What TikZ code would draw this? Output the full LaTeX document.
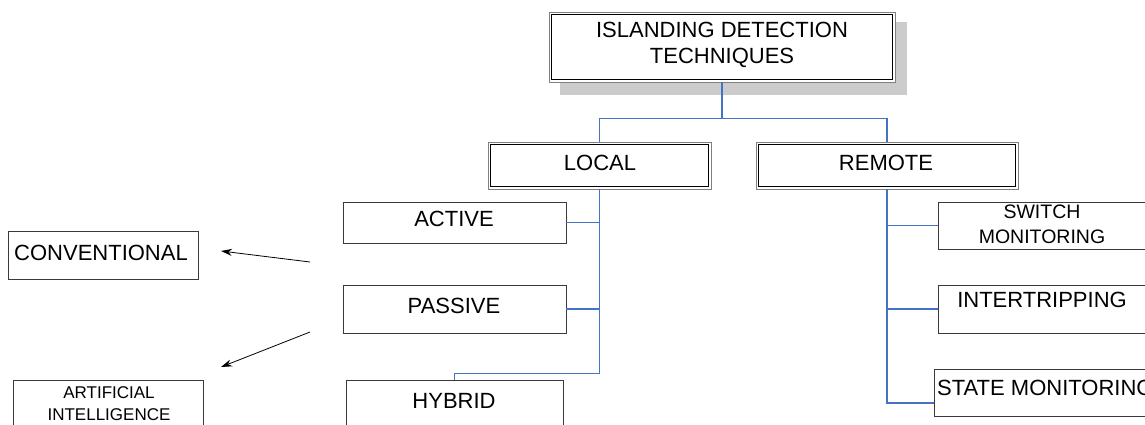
\documentclass[tikz,border=0pt]{standalone}
\usepackage{fontspec}
\setmainfont{Liberation Sans}
\usetikzlibrary{arrows.meta,calc}
\definecolor{connblue}{HTML}{4472C4}
\definecolor{shadowgray}{HTML}{CCCCCC}
\definecolor{edgegray}{HTML}{3A3A3A}
\begin{document}
\begin{tikzpicture}[x=1pt,y=-1pt,
  box/.style={draw=edgegray,line width=0.9pt,fill=white,rectangle,inner sep=0pt},
  dbl/.style={draw=gray,line width=0.9pt,fill=white,rectangle,inner sep=0pt},
  connector/.style={draw=connblue,line width=1.1pt},
  pointer/.style={draw=black,line width=0.8pt,-{Stealth[length=11pt,width=7pt]}},
  big/.style={font=\fontsize{22}{26}\selectfont,inner sep=0pt,text height=15.75pt,text depth=0pt},
  bigml/.style={font=\fontsize{22}{26}\selectfont,inner sep=0pt,align=center},
  smallml/.style={font=\fontsize{19.5}{25}\selectfont,inner sep=0pt,align=center},
  tinyml/.style={font=\fontsize{17}{22}\selectfont,inner sep=0pt,align=center}]
\useasboundingbox (0,0) rectangle (1145,424);
\clip (0,0) rectangle (1145,424);
% shadow
\fill[shadowgray] (560,22) rectangle (907,95);
% boxes
\node[dbl,minimum width=346pt,minimum height=70pt] (top) at (722,47) {};
\draw[black,line width=1pt] ($(top.north west)+(2.5,2.5)$) rectangle ($(top.south east)+(-2.5,-2.5)$);
\node[dbl,minimum width=223pt,minimum height=47pt] (local) at (599.5,165.5) {};
\draw[black,line width=1pt] ($(local.north west)+(2.5,2.5)$) rectangle ($(local.south east)+(-2.5,-2.5)$);
\node[dbl,minimum width=262pt,minimum height=47pt] (remote) at (887,165.5) {};
\draw[black,line width=1pt] ($(remote.north west)+(2.5,2.5)$) rectangle ($(remote.south east)+(-2.5,-2.5)$);
\node[box,minimum width=223pt,minimum height=41pt] (active) at (454.5,222.5) {};
\node[box,minimum width=223pt,minimum height=48pt] (passive) at (454.5,309) {};
\node[box,minimum width=217pt,minimum height=50pt] (hybrid) at (454.5,405) {};
\node[box,minimum width=208pt,minimum height=47pt] (switch) at (1042,225.5) {};
\node[box,minimum width=212pt,minimum height=48pt] (inter) at (1044,309) {};
\node[box,minimum width=226pt,minimum height=47pt] (state) at (1047,392.5) {};
\node[box,minimum width=190pt,minimum height=48pt] (conv) at (103,255) {};
\node[box,minimum width=190pt,minimum height=50pt] (ai) at (108,405) {};
% texts
\node[bigml,anchor=base] (ttop) at (722,63) {ISLANDING DETECTION\\TECHNIQUES};
\node[big] (tlocal) at (600,162.5) {LOCAL};
\node[big] (tremote) at (886,162.5) {REMOTE};
\node[big] (tactive) at (454,219) {ACTIVE};
\node[big] (tpassive) at (454,306) {PASSIVE};
\node[big] (thybrid) at (454,401) {HYBRID};
\node[smallml,anchor=base] (tswitch) at (1042,243) {SWITCH\\MONITORING};
\node[big] (tinter) at (1042,300) {INTERTRIPPING};
\node[big,anchor=west] (tstate) at (937,388) {STATE MONITORING};
\node[big] (tconv) at (101,252.5) {CONVENTIONAL};
\node[tinyml,anchor=base] (tai) at (109,420) {ARTIFICIAL\\INTELLIGENCE};
% connectors
\draw[connector] (top.south) -- ++(0,36) -| (local.north);
\draw[connector] (top.south) -- ++(0,36) -| (remote.north);
\draw[connector] (local.south) |- (active.east);
\draw[connector] (local.south) |- (passive.east);
\draw[connector] (local.south) -- ++(0,184) -| (hybrid.north);
\draw[connector] (remote.south) |- (switch.west);
\draw[connector] (remote.south) |- (inter.west);
\draw[connector] (remote.south) |- ($(state.west)+(0,10.5)$);
% pointers
\coordinate (p1s) at (310,262);
\coordinate (p1e) at (221,251);
\coordinate (p2s) at (310,332);
\coordinate (p2e) at (221,367);
\draw[pointer] (p1s) -- (p1e);
\draw[pointer] (p2s) -- (p2e);
\end{tikzpicture}
\end{document}
